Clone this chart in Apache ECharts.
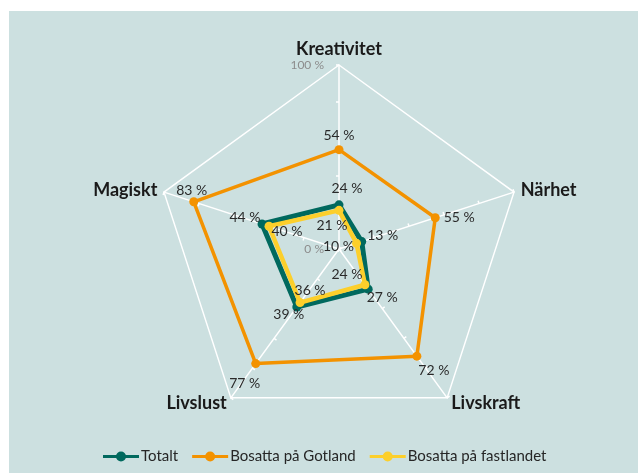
<!DOCTYPE html>
<html>
<head>
<meta charset="utf-8">
<script src="https://cdn.jsdelivr.net/npm/echarts@6/dist/echarts.min.js"></script>
<style>
  html, body { margin: 0; padding: 0; background: #fff; }
  #bg { position: absolute; left: 9px; top: 11px; width: 629px; height: 462px; background: #cce0e0; }
  #chart { position: absolute; left: 0; top: 0; width: 638px; height: 473px; }
</style>
</head>
<body>
<div id="bg"></div>
<div id="chart"></div>
<script>
// indikatorer i ordning medurs från toppen (som i Excel)
const indicators = ['Kreativitet', 'Närhet', 'Livskraft', 'Livslust', 'Magiskt']
const totalt = [24, 13, 27, 39, 44]
const gotland = [54, 55, 72, 77, 83]
const fastlandet = [21, 10, 24, 36, 40]
const seriesNames = ['Totalt', 'Bosatta på Gotland', 'Bosatta på fastlandet']
const axisMax = 100

// etikettförskjutning [dx, dy] per indikator
const offTotalt = [[8, -16], [21, -6], [14, 8], [-8, 7], [-17, -6]]
const offGotland = [[0, -14], [24, 0], [17, 14], [-11, 20], [-2, -11]]
const offFast = [[-7, 15], [-18, 3], [-18, -10], [10, -12], [18, 5]]

// echarts ritar moturs, så vänd ordningen
const order = [0, 4, 3, 2, 1]
const pick = arr => order.map(i => arr[i])

const colors = ['#00695e', '#f39200', '#fccf2b']

const makeRich = offs => {
  const rich = {}
  pick(offs).forEach(([dx, dy], i) => {
    rich['p' + i] = {
      fontFamily: 'Lato',
      fontSize: 14,
      color: '#2a2a2a',
      padding: [dy > 0 ? 2 * dy : 0, dx < 0 ? -2 * dx : 0, dy < 0 ? -2 * dy : 0, dx > 0 ? 2 * dx : 0]
    }
  })
  return rich
}

const makeSeriesData = (name, values, color, width, offs) => ({
  name,
  value: pick(values),
  symbol: 'circle',
  symbolSize: 9,
  lineStyle: { color, width },
  itemStyle: { color },
  label: {
    show: true,
    position: 'inside',
    formatter: p => '{p' + p.dimensionIndex + '|' + p.value + ' %}',
    rich: makeRich(offs)
  }
})

const legendIcon = 'path://M0,3.5L13.3,3.5L13.3,6.5L0,6.5Z M13,5A5,5,0,1,1,23,5A5,5,0,1,1,13,5Z M22.7,3.5L36,3.5L36,6.5L22.7,6.5Z'

const chart = echarts.init(document.getElementById('chart'))

chart.setOption({
  backgroundColor: 'transparent',
  color: colors,
  textStyle: { fontFamily: 'Lato' },
  legend: {
    top: 444,
    left: 98,
    itemGap: 14,
    itemWidth: 36,
    itemHeight: 10,
    icon: legendIcon,
    textStyle: { fontFamily: 'Lato', fontSize: 15, color: '#262626', padding: [0, 0, 0, -3] },
    data: seriesNames
  },
  radar: {
    center: [339, 249],
    radius: 184,
    shape: 'polygon',
    splitNumber: 5,
    axisName: { color: '#1a1a1a', fontFamily: 'Lato', fontWeight: 'bold', fontSize: 18 },
    nameGap: 7,
    axisLine: { lineStyle: { color: '#ffffff', width: 1.5 } },
    axisTick: { show: true, length: 3, lineStyle: { color: '#ffffff', width: 1.5 } },
    axisLabel: { show: false },
    splitLine: {
      lineStyle: {
        color: ['transparent', 'transparent', 'transparent', 'transparent', 'transparent', '#ffffff'],
        width: 1.5
      }
    },
    splitArea: { show: false },
    indicator: pick(indicators).map((name, i) => {
      const ind = { name, min: 0, max: axisMax }
      if (i === 0) {
        ind.axisLabel = {
          show: true,
          color: '#8c8c8c',
          fontFamily: 'Lato',
          fontSize: 12,
          margin: 15,
          showMinLabel: true,
          showMaxLabel: true,
          formatter: v => (v === 0 || v === axisMax) ? v + ' %' : ''
        }
      }
      return ind
    })
  },
  series: [
    {
      type: 'radar',
      z: 3,
      data: [makeSeriesData(seriesNames[1], gotland, colors[1], 3.5, offGotland)]
    },
    {
      type: 'radar',
      z: 4,
      data: [makeSeriesData(seriesNames[0], totalt, colors[0], 5, offTotalt)]
    },
    {
      type: 'radar',
      z: 5,
      data: [makeSeriesData(seriesNames[2], fastlandet, colors[2], 4.5, offFast)]
    }
  ]
})

window.addEventListener('resize', () => {
  chart.resize()
})
</script>
</body>
</html>
